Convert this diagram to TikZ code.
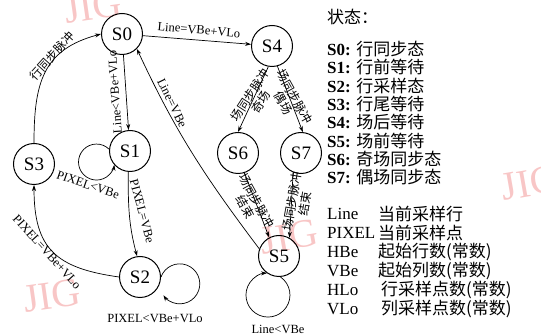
\documentclass[tikz,border=0pt]{standalone}
\usepackage{fontspec}
\setmainfont{Liberation Serif}
\newfontfamily\cjk{Noto Sans CJK SC}
\usetikzlibrary{arrows.meta}
\definecolor{wmpink}{RGB}{248,198,198}

\begin{document}
\begin{tikzpicture}[x=1pt,y=1pt,
  state/.style={circle, draw, line width=1pt, minimum size=41pt, inner sep=0pt,
                font=\fontsize{19}{19}\selectfont},
  tr/.style={line width=0.7pt, -{Stealth[length=6pt,width=4pt]}},
  elab/.style={font=\fontsize{12.5}{12.5}\selectfont, inner sep=0pt},
  clab/.style={font=\cjk\fontsize{12}{13}\selectfont, inner sep=0pt, align=center},
  legend/.style={anchor=west, inner sep=0pt, font=\fontsize{17}{17}\selectfont},
  wmark/.style={text=wmpink, inner sep=0pt, font=\fontsize{40}{40}\selectfont}
]
\useasboundingbox (0,0) rectangle (541,-336);
\clip (0,0) rectangle (541,-336);

% watermarks
\node[wmark, rotate=8]  (wm1) at (52,-296) {JIG};
\node[wmark, rotate=10] (wm2) at (289,-237) {JIG};
\node[wmark, rotate=10] (wm3) at (530,-183) {JIG};
\node[wmark, rotate=8]  (wm4) at (93,-7) {JIG};

% states
\node[state] (S0) at (122,-34)  {S0};
\node[state] (S4) at (272,-46)  {S4};
\node[state] (S1) at (130,-151) {S1};
\node[state] (S3) at (34,-164)  {S3};
\node[state] (S2) at (140,-277) {S2};
\node[state] (S6) at (238,-153) {S6};
\node[state] (S7) at (301,-153) {S7};
\node[state] (S5) at (279,-256) {S5};

% transitions
\draw[tr] (S3.north) to[out=90, in=195, looseness=1.2] (S0.west);
\draw[tr] (S0) -- (S4);
\draw[tr] (S0) -- (S1);
\draw[tr] (S5.160) to[out=127, in=-65] (S0.-45);
\draw[tr] (S1.265) to[out=-90, in=105] (S2.98);
\draw[tr] (S2.west) to[out=172, in=-90, looseness=1.3] (S3.south);
\draw[tr] (S4.-100) -- (S6.north);
\draw[tr] (S4.-75) -- (S7.85);
\draw[tr] (S6.-72) -- (S5.118);
\draw[tr] (S7.-112) -- (S5.60);

% self loops
\draw[tr] (S1.175) arc[start angle=45.7, end angle=351.4, radius=18];
\draw[tr] (S2.east) arc[start angle=160, end angle=-145, radius=20];
\draw[tr] (S5.-86) arc[start angle=55.4, end angle=-267.6, radius=22];

% transition labels
\node[clab, rotate=48]  (t30) at (52,-56)   {行同步脉冲};
\node[elab, rotate=-5]  (t04) at (199,-30)  {Line=VBe+VLo};
\node[elab, rotate=94]  (t01) at (115,-92)  {Line<VBe+VLo};
\node[elab, rotate=-64] (t50) at (172,-103) {Line=VBe};
\node[elab, rotate=-75] (t12) at (142,-211) {PIXEL=VBe};
\node[elab, rotate=-19] (t11) at (88,-185)  {PIXEL<VBe};
\node[elab, rotate=-48] (t23) at (47,-252)  {PIXEL=VBe+VLo};
\node[elab]             (t22) at (155,-319) {PIXEL<VBe+VLo};
\node[elab]             (t55) at (278,-329) {Line<VBe};
\node[clab, rotate=57]  (t46) at (255.5,-98.5) {场同步脉冲\\奇场};
\node[clab, rotate=-61] (t47) at (289,-100)    {场同步脉冲\\偶场};
\node[clab, rotate=-61] (t65) at (251,-204)    {场同步脉冲\\结束};
\node[clab, rotate=80]  (t75) at (298.5,-202.5){场同步脉冲\\结束};

% legend: states
\node[legend] (hd) at (327,-17)  {{\cjk 状态：}};
\node[legend] (k0) at (327,-49)  {\textbf{S0:} {\cjk 行同步态}};
\node[legend] (k1) at (327,-67.3){\textbf{S1:} {\cjk 行前等待}};
\node[legend] (k2) at (327,-85.6){\textbf{S2:} {\cjk 行采样态}};
\node[legend] (k3) at (327,-104) {\textbf{S3:} {\cjk 行尾等待}};
\node[legend] (k4) at (327,-122) {\textbf{S4:} {\cjk 场后等待}};
\node[legend] (k5) at (327,-140.5){\textbf{S5:} {\cjk 场前等待}};
\node[legend] (k6) at (327,-159) {\textbf{S6:} {\cjk 奇场同步态}};
\node[legend] (k7) at (327,-177) {\textbf{S7:} {\cjk 偶场同步态}};

% legend: variables
\node[legend] (v1) at (327,-214) {Line};
\node[legend] (v2) at (327,-233) {PIXEL};
\node[legend] (v3) at (327,-252) {HBe};
\node[legend] (v4) at (327,-271) {VBe};
\node[legend] (v5) at (327,-290) {HLo};
\node[legend] (v6) at (327,-309) {VLo};
\node[legend] (d1) at (378,-214) {{\cjk 当前采样行}};
\node[legend] (d2) at (378,-233) {{\cjk 当前采样点}};
\node[legend] (d3) at (378,-252) {{\cjk 起始行数(常数)}};
\node[legend] (d4) at (378,-271) {{\cjk 起始列数(常数)}};
\node[legend] (d5) at (381,-290) {{\cjk 行采样点数(常数)}};
\node[legend] (d6) at (381,-309) {{\cjk 列采样点数(常数)}};
\end{tikzpicture}
\end{document}
